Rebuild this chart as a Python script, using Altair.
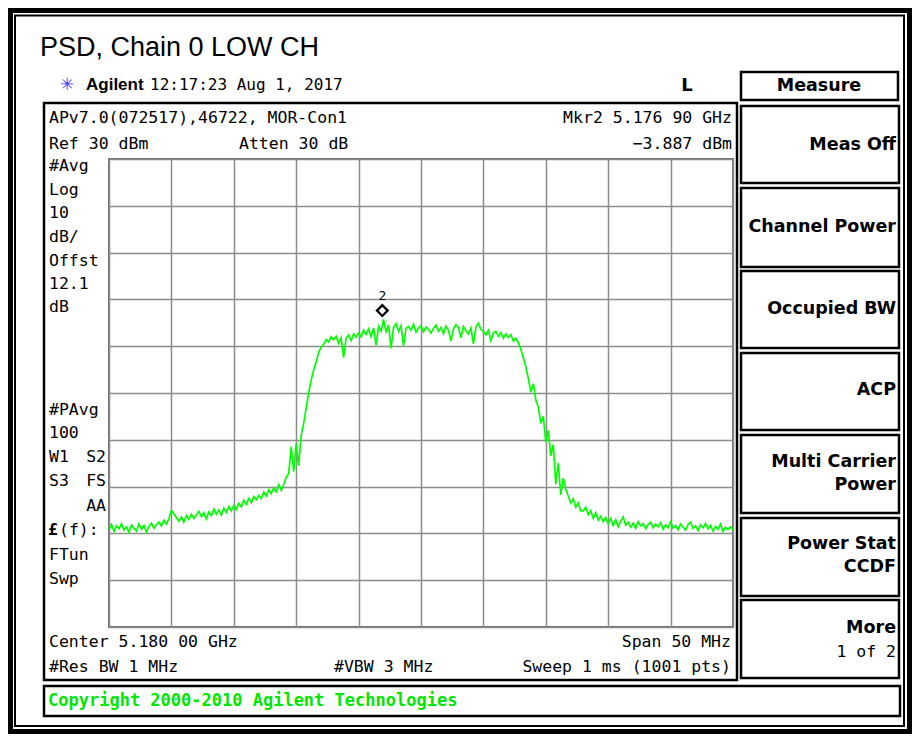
import altair as alt
import pandas as pd

# ---------------- data ----------------
start_ghz = 5.155
stop_ghz = 5.205
trace_dbm = [
    -49.2, -48.1, -49.6, -48.4, -49.0, -47.9, -49.3, -48.6, -49.8, -48.2,
    -48.9, -49.5, -48.0, -49.1, -48.3, -49.7, -48.5, -47.8, -48.9, -48.1,
    -47.6, -48.4, -47.2, -48.0, -46.9, -45.1, -45.8, -46.6, -47.4, -46.5,
    -47.6, -46.2, -47.0, -45.9, -46.8, -46.1, -45.3, -46.4, -45.6, -46.9,
    -45.4, -46.2, -44.8, -45.9, -45.0, -46.1, -44.6, -45.5, -44.3, -45.2,
    -44.0, -44.9, -43.6, -44.3, -42.9, -43.8, -42.5, -43.4, -42.1, -42.8,
    -41.9, -42.6, -41.2, -42.0, -40.7, -41.5, -40.3, -41.1, -39.6, -40.8,
    -39.6, -38.0, -37.2, -31.5, -36.8, -30.8, -35.5, -29.0, -26.5, -23.2,
    -20.0, -17.2, -15.1, -13.4, -11.3, -10.2, -9.6, -8.6, -9.1, -8.0,
    -8.6, -7.9, -9.4, -8.2, -12.4, -8.3, -7.6, -8.8, -7.4, -8.1,
    -7.2, -8.0, -6.6, -7.5, -6.3, -7.9, -6.1, -9.8, -5.7, -6.8,
    -4.3, -6.9, -5.5, -10.4, -6.0, -5.2, -6.8, -5.6, -9.9, -6.2,
    -5.8, -6.6, -5.3, -7.0, -6.1, -5.6, -6.9, -5.9, -6.4, -7.2,
    -6.2, -5.5, -6.8, -6.0, -7.3, -5.7, -6.6, -8.9, -6.3, -5.4,
    -6.0, -8.2, -5.8, -6.7, -7.4, -6.1, -9.5, -5.9, -5.1, -6.4,
    -6.9, -7.6, -6.6, -8.8, -7.2, -6.8, -7.9, -7.1, -8.3, -7.4,
    -8.1, -7.5, -8.9, -8.3, -9.2, -10.6, -12.5, -14.4, -16.9, -19.8,
    -18.0, -21.5, -23.0, -26.5, -25.0, -30.5, -28.0, -33.5, -31.0, -39.5,
    -35.0, -41.8, -38.2, -40.5, -42.0, -43.5, -42.6, -44.4, -43.5, -45.2,
    -45.2, -44.4, -46.0, -45.1, -46.8, -45.6, -47.2, -46.3, -47.5, -46.6,
    -47.9, -46.8, -48.3, -47.1, -48.6, -47.4, -46.5, -48.2, -47.6, -48.7,
    -47.8, -48.9, -47.5, -48.4, -47.9, -49.0, -48.1, -47.6, -48.8, -48.0,
    -48.6, -47.7, -49.1, -48.2, -48.8, -47.5, -48.9, -48.3, -49.2, -48.0,
    -48.7, -49.3, -48.1, -47.6, -48.9, -48.4, -49.4, -48.2, -48.8, -47.9,
    -49.0, -48.3, -49.5, -48.5, -49.1, -48.0, -49.6, -48.7, -49.2, -48.6,
    -49.3,
]
marker_ghz = [5.17690]
marker_dbm = [-3.887]
x_grid_ghz = [5.155, 5.160, 5.165, 5.170, 5.175, 5.180, 5.185, 5.190, 5.195, 5.200, 5.205]
y_grid_dbm = [-70, -60, -50, -40, -30, -20, -10, 0, 10, 20, 30]

n = len(trace_dbm)
freq = [start_ghz + (stop_ghz - start_ghz) * i / (n - 1) for i in range(n)]
df = pd.DataFrame({"freq": freq, "level": trace_dbm})
mk = pd.DataFrame({"freq": marker_ghz, "level": marker_dbm})

# ---------------- layout ----------------
X0, Y0 = 109, 159          # page position of the graticule's top-left corner
W, H = 624, 468            # graticule size
TOT_W, TOT_H = 904, 726    # whole svg
MONO = "DejaVu Sans Mono"
SANS = "Liberation Sans"
KEY = "DejaVu Sans"

x_enc = alt.X("freq:Q",
              scale=alt.Scale(domain=[start_ghz, stop_ghz], nice=False, zero=False),
              axis=alt.Axis(values=x_grid_ghz, labels=False, ticks=False, domain=False,
                            title=None, grid=True))
y_enc = alt.Y("level:Q",
              scale=alt.Scale(domain=[-70, 30], nice=False, zero=False),
              axis=alt.Axis(values=y_grid_dbm, labels=False, ticks=False, domain=False,
                            title=None, grid=True))

trace = alt.Chart(df).mark_line(color="#00ff00", strokeWidth=1.7).encode(x=x_enc, y=y_enc)
marker = alt.Chart(mk).mark_point(shape="diamond", filled=False, stroke="black",
                                  strokeWidth=2.3, size=115, yOffset=-7, opacity=1).encode(x=x_enc, y=y_enc)
marker_lbl = alt.Chart(mk).mark_text(text="2", font=MONO, fontSize=13, color="black",
                                     baseline="middle", yOffset=-22).encode(x=x_enc, y=y_enc)

ONE = alt.Data(values=[{"k": 0}])


def txt(s, xp, yp, size=16.5, font=MONO, weight="normal", align="left", color="black"):
    return alt.Chart(ONE).mark_text(text=s, font=font, fontSize=size, fontWeight=weight,
                                    align=align, baseline="middle", color=color).encode(
        x=alt.value(xp - X0), y=alt.value(yp - Y0))


def box(x1, y1, x2, y2, sw=2.5, color="black"):
    return alt.Chart(ONE).mark_rect(filled=False, fillOpacity=0, stroke=color,
                                    strokeWidth=sw).encode(
        x=alt.value(x1 - X0), x2=alt.value(x2 - X0),
        y=alt.value(y1 - Y0), y2=alt.value(y2 - Y0))


deco = []
# outer frame (thick + thin)
deco.append(box(10.5, 10.5, TOT_W + 8 - 2.5, TOT_H + 8 - 2.5, sw=5))
deco.append(box(15, 15.5, TOT_W + 8 - 8, TOT_H + 8 - 8, sw=2))
# instrument screen panel
deco.append(box(44, 103, 737, 680, sw=2.5))
# soft-key boxes
deco.append(box(741, 72, 898, 100, sw=2.5))
for y1, y2 in [(106, 183), (188, 267), (271, 348), (353, 430), (435, 513), (518, 596), (600, 678)]:
    deco.append(box(741, y1, 899, y2, sw=2.5))
# copyright box
deco.append(box(44, 686, 900, 716, sw=2.5))

# title and header
deco.append(txt("PSD, Chain 0 LOW CH", 40, 48, size=27, font=SANS))
deco.append(txt("✳", 60, 85, size=17, font="DejaVu Sans", color="#3a3aff"))
deco.append(txt("Agilent", 86, 85, size=17, font=SANS, weight="bold"))
deco.append(txt("12:17:23  Aug 1, 2017", 150, 85, size=16))
deco.append(txt("L", 687, 86, size=18, font=KEY, weight="bold", align="center"))
deco.append(txt("Measure", 819, 86, size=17.5, font=KEY, weight="bold", align="center"))

# screen annotations
deco.append(txt("APv7.0(072517),46722, MOR-Con1", 49, 118))
deco.append(txt("Ref 30 dBm", 49, 144))
deco.append(txt("Atten 30 dB", 239, 144))
deco.append(txt("Mkr2  5.176 90 GHz", 732, 118, align="right"))
deco.append(txt("\u22123.887 dBm", 732, 144, align="right"))
for s, yp in [("#Avg", 166), ("Log", 190), ("10", 213), ("dB/", 237), ("Offst", 261),
              ("12.1", 284), ("dB", 307), ("#PAvg", 410), ("100", 433), ("W1", 457),
              ("S3", 481), ("FTun", 555), ("Swp", 579)]:
    deco.append(txt(s, 49, yp))
deco.append(txt("S2", 106, 457, align="right"))
deco.append(txt("FS", 106, 481, align="right"))
deco.append(txt("AA", 106, 506, align="right"))
deco.append(txt("£", 48, 530, weight="bold"))
deco.append(txt("(f):", 59, 530))
deco.append(txt("Center 5.180 00 GHz", 49, 642))
deco.append(txt("Span 50 MHz", 731, 642, align="right"))
deco.append(txt("#Res BW 1 MHz", 49, 667))
deco.append(txt("#VBW 3 MHz", 334, 667))
deco.append(txt("Sweep 1 ms (1001 pts)", 731, 667, align="right"))
deco.append(txt("Copyright 2000-2010 Agilent Technologies", 48, 701, size=17,
                weight="bold", color="#00e600"))

# soft-key labels
for s, yp, wgt in [("Meas Off", 145, "bold"), ("Channel Power", 227, "bold"),
                   ("Occupied BW", 309, "bold"), ("ACP", 390, "bold"),
                   ("Multi Carrier", 462, "bold"), ("Power", 485, "bold"),
                   ("Power Stat", 544, "bold"), ("CCDF", 567, "bold"),
                   ("More", 628, "bold"), ("1 of 2", 652, "normal")]:
    if wgt == "bold":
        deco.append(txt(s, 896, yp, size=17.5, font=KEY, weight="bold", align="right"))
    else:
        deco.append(txt(s, 896, yp, size=16.5, align="right"))

chart = alt.layer(trace, marker, marker_lbl, *deco).properties(
    width=W, height=H,
    padding={"left": X0 - 8, "top": Y0 - 8,
             "right": TOT_W - (X0 - 8) - W, "bottom": TOT_H - (Y0 - 8) - H},
    autosize=alt.AutoSizeParams(type="none"),
    background="white",
).configure_view(
    stroke="#6e6e6e", strokeWidth=2
).configure_axis(
    gridColor="#8c8c8c", gridWidth=1.5, gridOpacity=1
)

chart.save("out.html", embed_options={"renderer": "svg", "actions": False})
